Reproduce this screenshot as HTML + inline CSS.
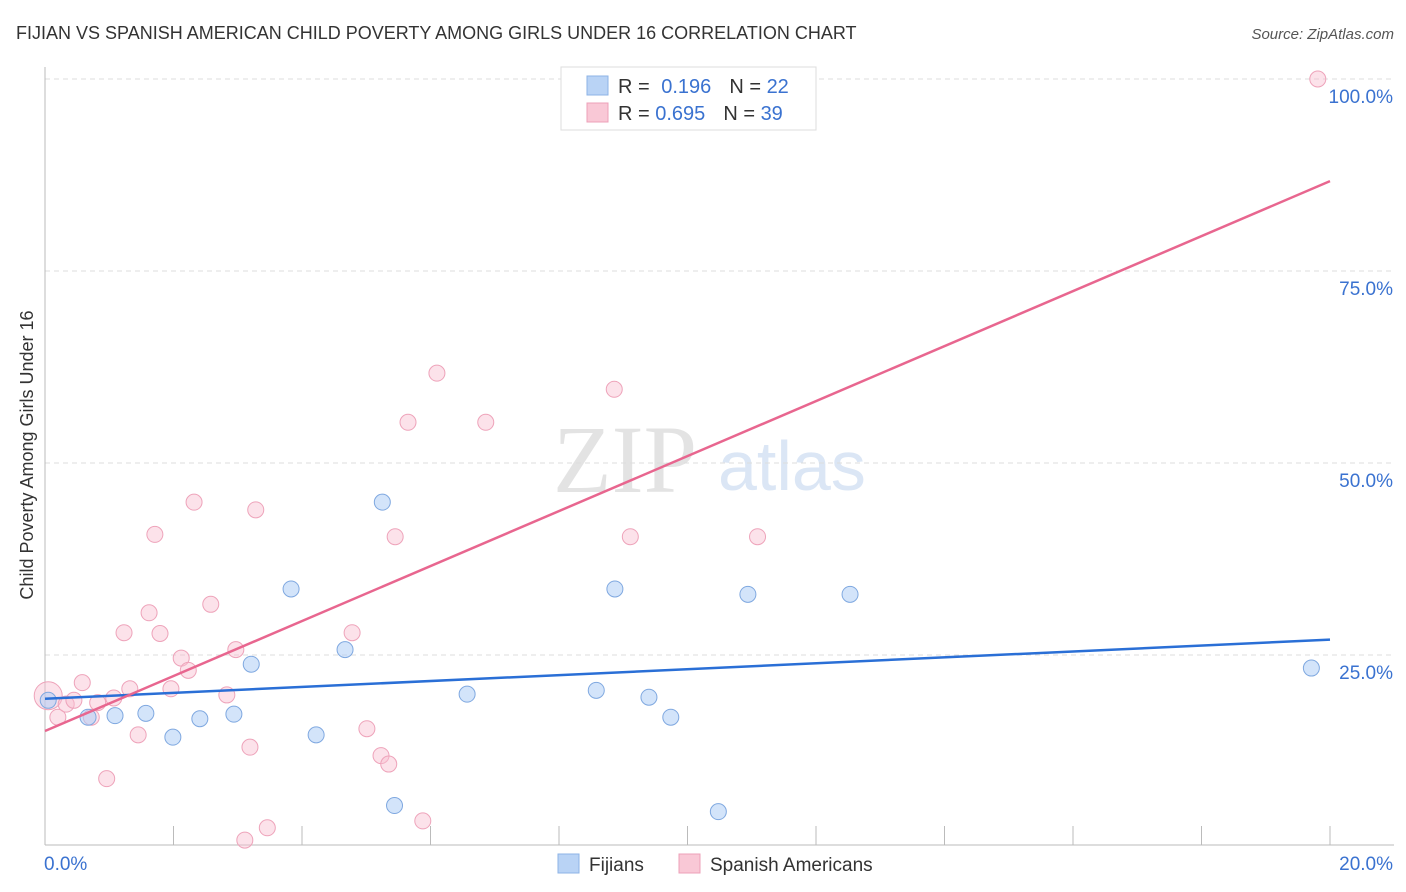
<!DOCTYPE html>
<html><head><meta charset="utf-8"><style>
body{margin:0;background:#fff;font-family:"Liberation Sans",sans-serif;}
svg{display:block}
</style></head><body>
<svg id="c" width="1406" height="892">
<text x="16" y="39" font-size="18" fill="#333">FIJIAN VS SPANISH AMERICAN CHILD POVERTY AMONG GIRLS UNDER 16 CORRELATION CHART</text>
<text x="1394" y="39" font-size="15" fill="#555" font-style="italic" text-anchor="end">Source: ZipAtlas.com</text>
<text x="33" y="455" font-size="18" fill="#333" text-anchor="middle" transform="rotate(-90 33 455)">Child Poverty Among Girls Under 16</text>
<text x="553" y="492" font-size="96" fill="#e3e3e3" font-family="Liberation Serif,serif">ZIP</text>
<text x="718" y="490" font-size="70" fill="#dbe6f5">atlas</text>
<g id="grid"></g><g id="pts"></g><g id="lines"></g>
<g>
<rect x="561" y="67" width="255" height="63" fill="#fff" stroke="#ddd"/>
<rect x="587" y="76" width="21" height="19" fill="#b9d3f5" stroke="#8db3e6"/>
<rect x="587" y="103" width="21" height="19" fill="#f9c8d6" stroke="#eda0b8"/>
<text x="618" y="93" font-size="20" fill="#333">R = <tspan fill="#3a72d0" dx="6">0.196</tspan><tspan fill="#333" dx="18">N = </tspan><tspan fill="#3a72d0">22</tspan></text>
<text x="618" y="120" font-size="20" fill="#333">R = <tspan fill="#3a72d0">0.695</tspan><tspan fill="#333" dx="18">N = </tspan><tspan fill="#3a72d0">39</tspan></text>
</g>
<g>
<rect x="558" y="854" width="21" height="19" fill="#b9d3f5" stroke="#8db3e6"/>
<text x="589" y="871" font-size="19" fill="#333">Fijians</text>
<rect x="679" y="854" width="21" height="19" fill="#f9c8d6" stroke="#eda0b8"/>
<text x="710" y="871" font-size="19" fill="#333">Spanish Americans</text>
</g>
</svg>
<script>
const blueX=[0.05,0.67,1.09,1.57,1.99,2.41,2.94,3.21,3.83,4.22,4.67,5.25,5.44,6.57,8.58,8.87,9.40,9.74,10.48,10.94,12.53,19.71];
const blueY=[19.1,16.9,17.1,17.4,14.3,16.7,17.3,23.8,33.6,14.6,25.7,44.9,5.4,19.9,20.4,33.6,19.5,16.9,4.6,32.9,32.9,23.3];
const pinkX=[0.05,0.2,0.33,0.45,0.58,0.72,0.82,0.96,1.07,1.23,1.32,1.45,1.62,1.71,1.79,1.96,2.12,2.23,2.32,2.58,2.83,2.97,3.11,3.19,3.28,3.46,4.78,5.01,5.23,5.35,5.45,5.65,5.88,6.10,6.86,8.86,9.11,11.09,19.81];
const pinkY=[19.7,16.9,18.6,19.1,21.4,16.9,18.8,8.9,19.4,27.9,20.6,14.6,30.5,40.7,27.8,20.6,24.6,23.0,44.9,31.6,19.8,25.7,0.9,13.0,43.9,2.5,27.9,15.4,11.9,10.8,40.4,55.3,3.4,61.7,55.3,59.6,40.4,40.4,100];
const blueLine=[[0,19.3],[20,27.0]];
const pinkLine=[[0,15.1],[20,86.7]];
const yTicks=[25,50,75,100];
const xTicks=[0,2,4,6,8,10,12,14,16,18,20];
const NS="http://www.w3.org/2000/svg";
const sx=v=>45+v*64.25, sy=v=>847-v*7.68;
function mk(t,a,p){const e=document.createElementNS(NS,t);for(const k in a)e.setAttribute(k,a[k]);document.getElementById(p).appendChild(e);return e;}
yTicks.forEach(t=>{
 const l=mk('line',{x1:45,x2:1394,y1:sy(t),y2:sy(t),stroke:'#ddd','stroke-dasharray':'5,4'},'grid');
 
 
 const tx=mk('text',{x:1393,y:sy(t)+24,'font-size':19,fill:'#3a72d0','text-anchor':'end'},'grid');
 tx.textContent=t.toFixed(1)+'%';
 
 
});
const ax=mk('line',{x1:45,x2:1394,y1:845,y2:845,stroke:'#bbb'},'grid');


const ay=mk('line',{x1:45,x2:45,y1:67,y2:845,stroke:'#bbb'},'grid');


xTicks.forEach(t=>{
 const l=mk('line',{x1:sx(t),x2:sx(t),y1:826,y2:845,stroke:'#bbb'},'grid');
 
 
});
[[0,'start','0.0%'],[20,'end','20.0%']].forEach(([v,a,s])=>{
 const tx=mk('text',{x:sx(v)+(v?63:-1),y:870,'font-size':19,fill:'#3a72d0','text-anchor':a},'grid');
 tx.textContent=s;
 
 
});
pinkX.forEach((x,i)=>{
 const c=mk('circle',{cx:sx(x),cy:sy(pinkY[i]),r:i==0?14:8,fill:'rgba(249,190,208,0.45)',stroke:'#eea3ba','stroke-width':1},'pts');
 
 
});
blueX.forEach((x,i)=>{
 const c=mk('circle',{cx:sx(x),cy:sy(blueY[i]),r:8,fill:'rgba(175,205,245,0.55)',stroke:'#7fa8e0','stroke-width':1},'pts');
 
 
});
const bl=mk('line',{x1:sx(blueLine[0][0]),y1:sy(blueLine[0][1]),x2:sx(blueLine[1][0]),y2:sy(blueLine[1][1]),stroke:'#2a6fd6','stroke-width':2.5},'lines');


const pl=mk('line',{x1:sx(pinkLine[0][0]),y1:sy(pinkLine[0][1]),x2:sx(pinkLine[1][0]),y2:sy(pinkLine[1][1]),stroke:'#e8668f','stroke-width':2.5},'lines');


</script>
</body></html>
